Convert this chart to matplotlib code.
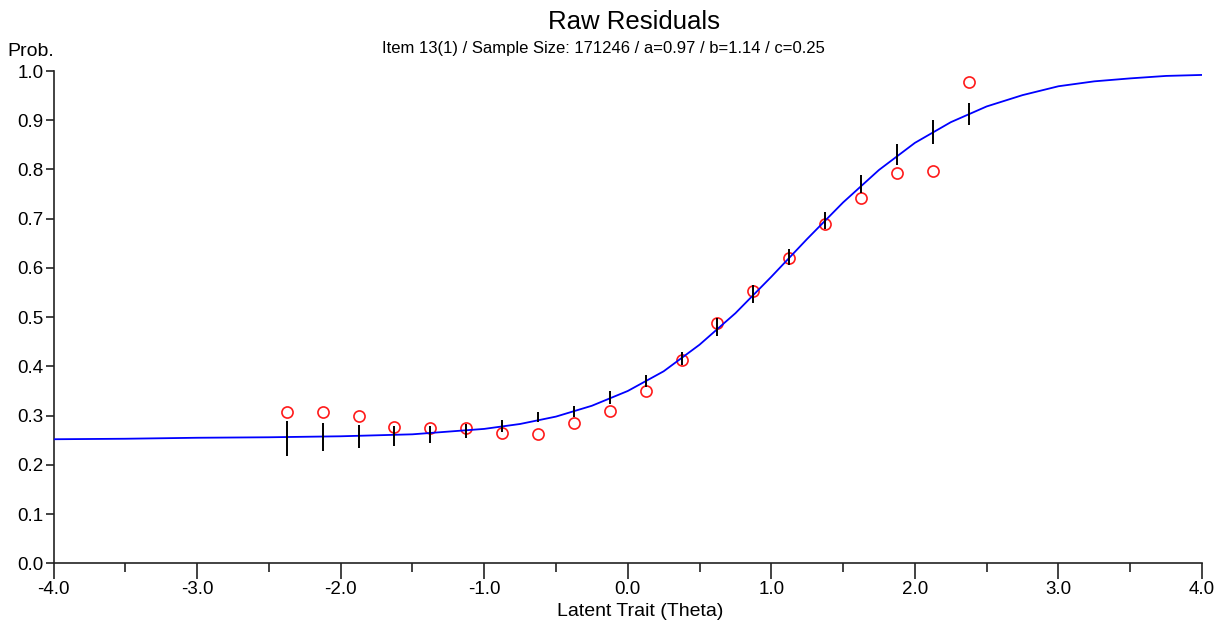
import matplotlib
matplotlib.use("Agg")
import matplotlib.pyplot as plt
from matplotlib.ticker import MultipleLocator

plt.rcParams['font.family'] = ['Liberation Sans', 'DejaVu Sans']

# model curve
theta_curve = [-4.0, -3.5, -3.0, -2.5, -2.0, -1.5, -1.0, -0.75, -0.5, -0.25, 0.0, 0.25,
               0.5, 0.75, 1.0, 1.25, 1.5, 1.75, 2.0, 2.25, 2.5, 2.75, 3.0, 3.25, 3.5, 3.75, 4.0]
p_curve = [0.252, 0.253, 0.255, 0.256, 0.258, 0.262, 0.273, 0.283, 0.298, 0.320, 0.350, 0.390,
           0.444, 0.508, 0.582, 0.659, 0.733, 0.799, 0.854, 0.896, 0.928, 0.951, 0.969, 0.979,
           0.985, 0.990, 0.992]

# group midpoints
theta_pts = [-2.375, -2.125, -1.875, -1.625, -1.375, -1.125, -0.875, -0.625, -0.375, -0.125,
             0.125, 0.375, 0.625, 0.875, 1.125, 1.375, 1.625, 1.875, 2.125, 2.375]
observed = [0.307, 0.308, 0.299, 0.2775, 0.2755, 0.2755, 0.265, 0.262, 0.286, 0.309,
            0.349, 0.412, 0.488, 0.554, 0.621, 0.689, 0.743, 0.793, 0.796, 0.978]
expected = [0.254, 0.257, 0.257, 0.259, 0.262, 0.268, 0.279, 0.297, 0.308, 0.337,
            0.371, 0.416, 0.480, 0.547, 0.622, 0.697, 0.770, 0.830, 0.876, 0.912]
half_ci = [0.036, 0.029, 0.023, 0.020, 0.017, 0.014, 0.013, 0.010, 0.011, 0.013,
           0.0125, 0.013, 0.018, 0.018, 0.016, 0.017, 0.018, 0.021, 0.024, 0.022]

fig = plt.figure(figsize=(12.25, 6.24), dpi=100)
ax = fig.add_axes([53.5 / 1225, 60.7 / 624, (1202 - 53.5) / 1225, (563.3 - 71) / 624])

ax.plot(theta_pts, observed, 'o', mfc='none', mec='#ff1a1a', ms=8, mew=1.2, zorder=2)
ax.plot(theta_curve, p_curve, color='#0000ff', lw=1.3, zorder=3)
lo = [e - h for e, h in zip(expected, half_ci)]
hi = [e + h for e, h in zip(expected, half_ci)]
ax.vlines(theta_pts, lo, hi, color='black', lw=1.4, zorder=4)

ax.set_xlim(-4, 4)
ax.set_ylim(0, 1)
ax.spines['top'].set_visible(False)
ax.spines['right'].set_visible(False)
for s in ['left', 'bottom']:
    ax.spines[s].set_color('#222222')
    ax.spines[s].set_linewidth(1.2)

ax.xaxis.set_major_locator(MultipleLocator(1.0))
ax.xaxis.set_minor_locator(MultipleLocator(0.5))
ax.yaxis.set_major_locator(MultipleLocator(0.1))
ax.xaxis.set_major_formatter(plt.FuncFormatter(lambda v, p: f"{v:.1f}"))
ax.yaxis.set_major_formatter(plt.FuncFormatter(lambda v, p: f"{v:.1f}"))
ax.tick_params(axis='x', which='major', length=11.5, width=1.2, color='#222222',
               labelsize=13.5, pad=1)
ax.tick_params(axis='x', which='minor', length=6.5, width=1.2, color='#222222')
ax.tick_params(axis='y', which='major', length=6, width=1.2, color='#222222',
               labelsize=13.5, pad=1)

fig.text(634.5 / 1225, 1 - 22 / 624, 'Raw Residuals', ha='center', va='center', fontsize=18.5)
fig.text(603.5 / 1225, 1 - 48 / 624,
         'Item 13(1) / Sample Size: 171246 / a=0.97 / b=1.14 / c=0.25',
         ha='center', va='center', fontsize=12)
fig.text(31 / 1225, 1 - 52 / 624, 'Prob.', ha='center', va='center', fontsize=14)
fig.text(640 / 1225, 1 - 611 / 624, 'Latent Trait (Theta)', ha='center', va='center', fontsize=14)

fig.savefig('out.png', dpi=100)
